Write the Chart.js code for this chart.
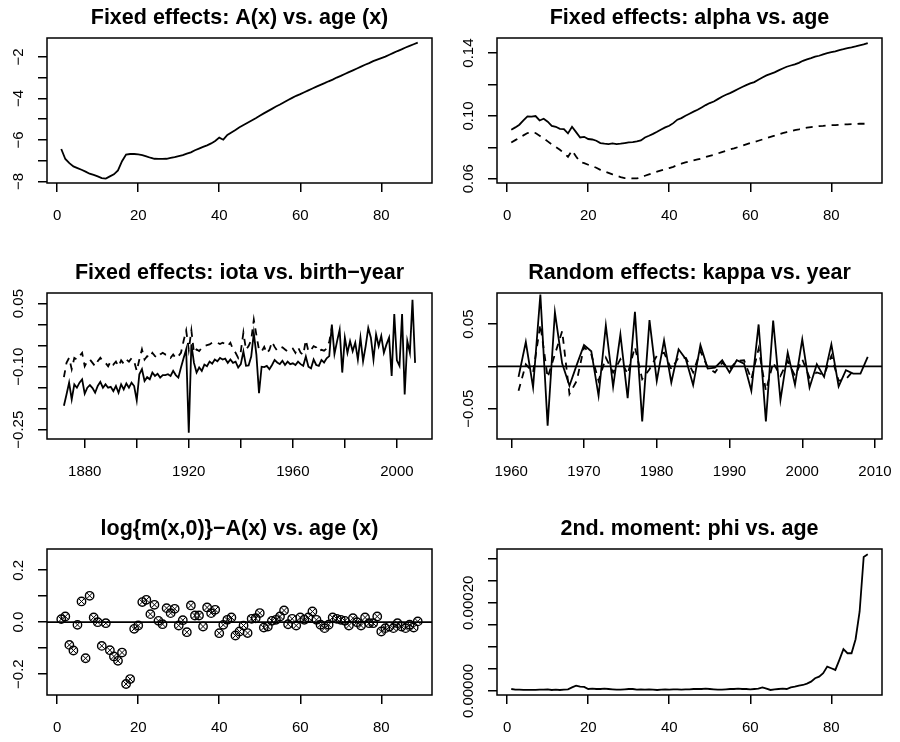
<!DOCTYPE html>
<html>
<head>
<meta charset="utf-8">
<script src="https://cdn.jsdelivr.net/npm/chart.js@4.4.0/dist/chart.umd.min.js"></script>
<style>
  html, body { margin: 0; background: #fff; }
  #page { position: relative; width: 900px; height: 742px; }
  #page canvas { position: absolute; left: 0; top: 0; }
</style>
</head>
<body>
<div id="page">
  <canvas id="pA" width="900" height="742"></canvas>
  <canvas id="pAlpha" width="900" height="742"></canvas>
  <canvas id="pIota" width="900" height="742"></canvas>
  <canvas id="pKappa" width="900" height="742"></canvas>
  <canvas id="pResid" width="900" height="742"></canvas>
  <canvas id="pPhi" width="900" height="742"></canvas>
</div>
<script>
// ages 1..89
const ages = [1,2,3,4,5,6,7,8,9,10,11,12,13,14,15,16,17,18,19,20,21,22,23,24,25,26,27,28,29,30,
  31,32,33,34,35,36,37,38,39,40,41,42,43,44,45,46,47,48,49,50,51,52,53,54,55,56,57,58,59,60,
  61,62,63,64,65,66,67,68,69,70,71,72,73,74,75,76,77,78,79,80,81,82,83,84,85,86,87,88,89];

// birth-years 1872..2007
const cohorts = [1872,1873,1874,1875,1876,1877,1878,1879,1880,1881,1882,1883,1884,1885,1886,1887,1888,1889,1890,1891,
  1892,1893,1894,1895,1896,1897,1898,1899,1900,1901,1902,1903,1904,1905,1906,1907,1908,1909,1910,1911,
  1912,1913,1914,1915,1916,1917,1918,1919,1920,1921,1922,1923,1924,1925,1926,1927,1928,1929,1930,1931,
  1932,1933,1934,1935,1936,1937,1938,1939,1940,1941,1942,1943,1944,1945,1946,1947,1948,1949,1950,1951,
  1952,1953,1954,1955,1956,1957,1958,1959,1960,1961,1962,1963,1964,1965,1966,1967,1968,1969,1970,1971,
  1972,1973,1974,1975,1976,1977,1978,1979,1980,1981,1982,1983,1984,1985,1986,1987,1988,1989,1990,1991,
  1992,1993,1994,1995,1996,1997,1998,1999,2000,2001,2002,2003,2004,2005,2006,2007];

// calendar years 1961..2009
const years = [1961,1962,1963,1964,1965,1966,1967,1968,1969,1970,1971,1972,1973,1974,1975,1976,1977,1978,1979,1980,
  1981,1982,1983,1984,1985,1986,1987,1988,1989,1990,1991,1992,1993,1994,1995,1996,1997,1998,1999,2000,
  2001,2002,2003,2004,2005,2006,2007,2008,2009];

const A = [-6.44,-6.92,-7.12,-7.28,-7.36,-7.44,-7.53,-7.63,-7.69,-7.76,
  -7.84,-7.87,-7.76,-7.66,-7.47,-7.03,-6.71,-6.68,-6.68,-6.70,
  -6.73,-6.79,-6.86,-6.91,-6.92,-6.92,-6.91,-6.87,-6.83,-6.78,
  -6.73,-6.66,-6.60,-6.50,-6.42,-6.34,-6.26,-6.17,-6.05,-5.89,
  -5.99,-5.76,-5.64,-5.52,-5.39,-5.28,-5.17,-5.06,-4.95,-4.83,
  -4.72,-4.61,-4.50,-4.39,-4.29,-4.18,-4.07,-3.97,-3.87,-3.79,
  -3.70,-3.61,-3.52,-3.43,-3.34,-3.26,-3.17,-3.09,-2.99,-2.91,
  -2.82,-2.73,-2.64,-2.55,-2.46,-2.37,-2.29,-2.20,-2.12,-2.05,
  -1.98,-1.89,-1.80,-1.71,-1.63,-1.54,-1.46,-1.38,-1.30];

const alpha = [0.0912,0.0927,0.0944,0.0971,0.0997,0.0995,0.0999,0.0971,0.0982,0.0963,
  0.0937,0.0931,0.0918,0.0916,0.0889,0.0931,0.0897,0.0863,0.0867,0.0853,
  0.0850,0.0842,0.0827,0.0823,0.0821,0.0825,0.0821,0.0823,0.0827,0.0831,
  0.0833,0.0838,0.0844,0.0863,0.0874,0.0886,0.0899,0.0914,0.0927,0.0937,
  0.0954,0.0976,0.0986,0.1001,0.1014,0.1027,0.1039,0.1054,0.1069,0.1082,
  0.1092,0.1107,0.1122,0.1135,0.1145,0.1158,0.1171,0.1184,0.1196,0.1207,
  0.1215,0.1230,0.1245,0.1258,0.1268,0.1277,0.1290,0.1302,0.1313,0.1321,
  0.1328,0.1338,0.1351,0.1360,0.1368,0.1377,0.1383,0.1392,0.1400,0.1406,
  0.1411,0.1419,0.1425,0.1432,0.1436,0.1442,0.1449,0.1455,0.1464];

const alphaDash = [0.0831,0.0846,0.0861,0.0876,0.0891,0.0895,0.0891,0.0874,0.0857,0.0838,
  0.0819,0.0802,0.0785,0.0763,0.0740,0.0780,0.0742,0.0706,0.0700,0.0689,
  0.0681,0.0670,0.0657,0.0647,0.0638,0.0628,0.0619,0.0611,0.0604,0.0604,
  0.0602,0.0602,0.0608,0.0619,0.0628,0.0636,0.0645,0.0653,0.0659,0.0668,
  0.0676,0.0687,0.0696,0.0704,0.0710,0.0717,0.0723,0.0729,0.0738,0.0746,
  0.0753,0.0761,0.0770,0.0778,0.0787,0.0793,0.0802,0.0810,0.0819,0.0827,
  0.0833,0.0842,0.0850,0.0859,0.0867,0.0874,0.0882,0.0891,0.0897,0.0903,
  0.0910,0.0914,0.0920,0.0925,0.0929,0.0933,0.0935,0.0937,0.0940,0.0942,
  0.0942,0.0944,0.0946,0.0946,0.0948,0.0948,0.0950,0.0950,0.0950];

const iota = [-0.193,-0.166,-0.138,-0.178,-0.142,-0.150,-0.138,-0.130,-0.164,-0.150,
  -0.144,-0.151,-0.162,-0.146,-0.136,-0.150,-0.142,-0.150,-0.148,-0.158,
  -0.146,-0.162,-0.142,-0.154,-0.140,-0.150,-0.138,-0.146,-0.180,-0.118,
  -0.106,-0.134,-0.125,-0.130,-0.114,-0.122,-0.117,-0.126,-0.120,-0.120,
  -0.118,-0.122,-0.110,-0.120,-0.126,-0.102,-0.080,-0.059,-0.257,-0.047,
  -0.091,-0.114,-0.102,-0.110,-0.095,-0.099,-0.088,-0.093,-0.083,-0.087,
  -0.079,-0.083,-0.081,-0.091,-0.083,-0.091,-0.088,-0.102,-0.094,-0.064,
  -0.098,-0.097,-0.076,-0.020,-0.072,-0.163,-0.100,-0.101,-0.098,-0.106,
  -0.096,-0.084,-0.090,-0.094,-0.086,-0.096,-0.088,-0.094,-0.092,-0.096,
  -0.088,-0.094,-0.098,-0.076,-0.100,-0.104,-0.083,-0.096,-0.098,-0.084,
  -0.090,-0.080,-0.075,0.000,-0.070,-0.040,-0.012,-0.114,-0.031,-0.067,
  -0.039,-0.063,-0.043,-0.083,-0.031,-0.087,-0.051,-0.008,-0.031,-0.083,
  -0.023,-0.051,-0.027,-0.067,-0.047,-0.031,-0.122,0.025,-0.085,-0.098,
  0.025,-0.166,-0.039,-0.067,0.059,-0.091];

// dashed iota stops in 1975
const iotaDash = [-0.125,-0.091,-0.079,-0.106,-0.079,-0.083,-0.075,-0.067,-0.099,-0.087,
  -0.083,-0.091,-0.099,-0.087,-0.079,-0.087,-0.091,-0.099,-0.087,-0.095,
  -0.088,-0.099,-0.085,-0.093,-0.083,-0.088,-0.080,-0.087,-0.110,-0.083,
  -0.059,-0.083,-0.075,-0.079,-0.067,-0.075,-0.079,-0.071,-0.067,-0.071,
  -0.071,-0.079,-0.071,-0.080,-0.075,-0.067,-0.039,-0.014,-0.060,-0.014,
  -0.067,-0.059,-0.063,-0.055,-0.051,-0.049,-0.047,-0.043,-0.043,-0.043,
  -0.046,-0.043,-0.046,-0.051,-0.043,-0.059,-0.067,-0.079,-0.064,-0.019,
  -0.060,-0.051,-0.037,0.012,-0.025,-0.060,-0.064,-0.053,-0.068,-0.060,
  -0.041,-0.053,-0.062,-0.057,-0.054,-0.059,-0.064,-0.060,-0.057,-0.067,
  -0.054,-0.067,-0.072,-0.037,-0.064,-0.060,-0.051,-0.054,-0.064,-0.060,
  -0.062,-0.057,-0.041,-0.007];

const kappa = [-0.0123,0.0288,-0.0249,0.0850,-0.0700,0.0640,0.0033,-0.0229,0.0018,0.0253,
  0.0180,-0.0347,0.0484,-0.0241,0.0378,-0.0374,0.0645,-0.0649,0.0547,-0.0170,
  0.0308,-0.0190,0.0202,0.0085,-0.0221,0.0253,-0.0025,-0.0014,0.0073,-0.0072,
  0.0073,0.0033,-0.0288,0.0496,-0.0649,0.0543,-0.0398,0.0163,-0.0217,0.0320,
  -0.0249,0.0025,-0.0123,0.0261,-0.0237,-0.0045,-0.0084,-0.0084,0.0112];

// dashed kappa stops in 2007
const kappaDash = [-0.0288,0.0025,-0.0072,0.0496,-0.0131,0.0143,0.0418,-0.0327,-0.0170,0.0229,
  0.0143,-0.0170,0.0104,-0.0072,0.0084,-0.0092,0.0229,-0.0151,-0.0033,0.0124,
  0.0163,-0.0033,0.0104,0.0100,-0.0072,0.0182,-0.0014,-0.0072,0.0045,-0.0033,
  0.0065,0.0073,-0.0151,0.0210,-0.0288,0.0045,-0.0112,0.0065,-0.0112,0.0084,
  -0.0131,-0.0072,-0.0100,0.0124,-0.0170,-0.0151,-0.0053];

const resid = [0.0116,0.0219,-0.0875,-0.109,-0.0103,0.0797,-0.139,0.1016,0.018,0.0,
  -0.0913,-0.004,-0.108,-0.132,-0.149,-0.117,-0.238,-0.219,-0.0257,-0.0129,
  0.0772,0.0862,0.0309,0.0669,0.0051,-0.0077,0.054,0.0347,0.0514,-0.0129,
  0.0077,-0.0386,0.0643,0.0257,0.0257,-0.0167,0.0566,0.0347,0.0476,-0.0424,
  -0.0103,0.009,0.018,-0.0514,-0.036,-0.013,-0.042,0.013,0.015,0.035,
  -0.021,-0.017,0.005,0.009,0.022,0.045,-0.008,0.013,-0.013,0.018,
  0.009,0.018,0.041,0.009,-0.010,-0.023,-0.010,0.018,0.013,0.009,
  0.005,-0.013,0.015,0.0,-0.013,0.018,-0.004,-0.004,0.022,-0.036,
  -0.023,-0.017,-0.023,-0.004,-0.017,-0.023,-0.010,-0.021,0.003];

const phi = [0.0000045,0.0000030,0.0000030,0.0000023,0.0000023,0.0000023,0.0000023,0.0000030,0.0000030,0.0000038,
  0.0000023,0.0000030,0.0000023,0.0000030,0.0000038,0.0000083,0.0000121,0.0000098,0.0000091,0.0000045,
  0.0000053,0.0000045,0.0000045,0.0000053,0.0000045,0.0000038,0.0000030,0.0000030,0.0000038,0.0000045,
  0.0000045,0.0000030,0.0000038,0.0000030,0.0000038,0.0000030,0.0000023,0.0000030,0.0000038,0.0000030,
  0.0000038,0.0000038,0.0000030,0.0000038,0.0000038,0.0000045,0.0000045,0.0000045,0.0000053,0.0000045,
  0.0000038,0.0000030,0.0000030,0.0000038,0.0000045,0.0000045,0.0000053,0.0000045,0.0000045,0.0000038,
  0.0000045,0.0000053,0.0000083,0.0000053,0.0000023,0.0000038,0.0000045,0.0000053,0.0000045,0.0000083,
  0.0000098,0.0000121,0.0000136,0.0000167,0.0000212,0.0000288,0.0000326,0.0000402,0.0000553,0.0000515,
  0.0000477,0.0000705,0.0000947,0.0000856,0.0000856,0.0001174,0.0001803,0.0003038,0.0003099];

// axis ticks and their labels ('' = tick without label)
const ageTicks = [0, 20, 40, 60, 80];
const ageLabels = ['0', '20', '40', '60', '80'];
const cohortTicks = [1880, 1900, 1920, 1940, 1960, 1980, 2000];
const cohortLabels = ['1880', '', '1920', '', '1960', '', '2000'];
const yearTicks = [1960, 1970, 1980, 1990, 2000, 2010];
const yearLabels = ['1960', '1970', '1980', '1990', '2000', '2010'];
const aTicks = [-8, -7, -6, -5, -4, -3, -2];
const aLabels = ['\u22128', '', '\u22126', '', '\u22124', '', '\u22122'];
const alphaTicks = [0.06, 0.08, 0.10, 0.12, 0.14];
const alphaLabels = ['0.06', '', '0.10', '', '0.14'];
const iotaTicks = [-0.25, -0.20, -0.15, -0.10, -0.05, 0, 0.05];
const iotaLabels = ['\u22120.25', '', '', '\u22120.10', '', '', '0.05'];
const kappaTicks = [-0.05, 0, 0.05];
const kappaLabels = ['\u22120.05', '', '0.05'];
const residTicks = [-0.2, -0.1, 0, 0.1, 0.2];
const residLabels = ['\u22120.2', '', '0.0', '', '0.2'];
const phiTicks = [0, 0.00005, 0.0001, 0.00015, 0.0002, 0.00025, 0.0003];
const phiLabels = ['0.00000', '', '', '', '0.00020', '', ''];

const FONT = '"Liberation Sans", Arial, Helvetica, sans-serif';

function pts(xs, ys) {
  return ys.map((y, i) => ({ x: xs[i], y: y }));
}

function solid(xs, ys) {
  return { data: pts(xs, ys), borderColor: '#000', borderWidth: 1.8, pointRadius: 0, tension: 0, fill: false };
}

function dashed(xs, ys) {
  return { ...solid(xs, ys), borderDash: [7, 6] };
}

// box, title, rotated y labels, optional h=0 line
const rFrame = {
  id: 'rFrame',
  beforeDatasetsDraw(chart, args, opts) {
    if (!opts.zeroLine) return;
    const { ctx, chartArea: a } = chart;
    const y0 = chart.scales.y.getPixelForValue(0);
    ctx.save();
    ctx.strokeStyle = '#000';
    ctx.lineWidth = 1.6;
    ctx.beginPath();
    ctx.moveTo(a.left, y0);
    ctx.lineTo(a.right, y0);
    ctx.stroke();
    ctx.restore();
  },
  afterDraw(chart, args, opts) {
    const { ctx, chartArea: a } = chart;
    const ys = chart.scales.y;
    ctx.save();
    ctx.strokeStyle = '#000';
    ctx.lineWidth = 1.5;
    ctx.strokeRect(a.left, a.top, a.right - a.left, a.bottom - a.top);

    ctx.fillStyle = '#000';
    ctx.textAlign = 'center';
    ctx.textBaseline = 'alphabetic';
    ctx.font = 'bold 21.5px ' + FONT;
    ctx.fillText(opts.title, (a.left + a.right) / 2, a.top - 14);

    ctx.font = '15px ' + FONT;
    opts.yTicks.forEach((v, i) => {
      const lab = opts.yLabels[i];
      if (!lab) return;
      ctx.save();
      ctx.translate(a.left - 24.5, ys.getPixelForValue(v));
      ctx.rotate(-Math.PI / 2);
      ctx.fillText(lab, 0, 0);
      ctx.restore();
    });
    ctx.restore();
  }
};

function rPanel(id, p) {
  const [L, T, R, B] = p.box;
  const grid = { drawOnChartArea: false, drawTicks: true, tickLength: 9, color: '#000', lineWidth: 1.5 };
  return new Chart(document.getElementById(id), {
    type: 'line',
    data: { datasets: p.datasets },
    options: {
      responsive: false,
      animation: false,
      events: [],
      layout: { padding: { left: L - 10, top: T, right: 900 - R, bottom: 742 - B - 40 } },
      plugins: {
        legend: { display: false },
        tooltip: { enabled: false },
        rFrame: { title: p.title, yTicks: p.yTicks, yLabels: p.yLabels, zeroLine: !!p.zeroLine }
      },
      scales: {
        x: {
          type: 'linear',
          position: 'bottom',
          min: p.xRange[0],
          max: p.xRange[1],
          afterBuildTicks: s => { s.ticks = p.xTicks.map(v => ({ value: v })); },
          afterFit: s => { s.height = 40; s.paddingLeft = 0; s.paddingRight = 0; },
          ticks: {
            autoSkip: false, maxRotation: 0, minRotation: 0, padding: 15, color: '#000',
            font: { family: FONT, size: 15 },
            callback: (v, i) => p.xLabels[i]
          },
          grid: grid,
          border: { display: false }
        },
        y: {
          type: 'linear',
          position: 'left',
          min: p.yRange[0],
          max: p.yRange[1],
          afterBuildTicks: s => { s.ticks = p.yTicks.map(v => ({ value: v })); },
          afterFit: s => { s.width = 10; s.paddingTop = 0; s.paddingBottom = 0; },
          ticks: { display: false },
          grid: grid,
          border: { display: false }
        }
      }
    },
    plugins: [rFrame]
  });
}

const ageRange = [-2.52, 92.52];

rPanel('pA', {
  box: [47, 38, 432, 183],
  title: 'Fixed effects: A(x) vs. age (x)',
  xRange: ageRange, xTicks: ageTicks, xLabels: ageLabels,
  yRange: [-8.08, -1.08], yTicks: aTicks, yLabels: aLabels,
  datasets: [solid(ages, A)]
});

rPanel('pAlpha', {
  box: [497, 38, 882, 183],
  title: 'Fixed effects: alpha vs. age',
  xRange: ageRange, xTicks: ageTicks, xLabels: ageLabels,
  yRange: [0.0573, 0.1496], yTicks: alphaTicks, yLabels: alphaLabels,
  datasets: [solid(ages, alpha), dashed(ages, alphaDash)]
});

rPanel('pIota', {
  box: [47, 293, 432, 439],
  title: 'Fixed effects: iota vs. birth\u2212year',
  xRange: [1865.5, 2013.5], xTicks: cohortTicks, xLabels: cohortLabels,
  yRange: [-0.272, 0.0752], yTicks: iotaTicks, yLabels: iotaLabels,
  datasets: [solid(cohorts, iota), dashed(cohorts, iotaDash)]
});

rPanel('pKappa', {
  box: [497, 293, 882, 439],
  title: 'Random effects: kappa vs. year',
  xRange: [1958.04, 2010.96], xTicks: yearTicks, xLabels: yearLabels,
  yRange: [-0.0858, 0.0868], yTicks: kappaTicks, yLabels: kappaLabels,
  zeroLine: true,
  datasets: [solid(years, kappa), dashed(years, kappaDash)]
});

rPanel('pResid', {
  box: [47, 549, 432, 695],
  title: 'log{m(x,0)}\u2212A(x) vs. age (x)',
  xRange: ageRange, xTicks: ageTicks, xLabels: ageLabels,
  yRange: [-0.2804, 0.2817], yTicks: residTicks, yLabels: residLabels,
  zeroLine: true,
  datasets: [
    { data: pts(ages, resid), showLine: false, pointStyle: 'circle', pointRadius: 4.2,
      pointBorderWidth: 1.4, pointBorderColor: '#000', pointBackgroundColor: 'rgba(0,0,0,0)' },
    { data: pts(ages, resid), showLine: false, pointStyle: 'crossRot', pointRadius: 4.2,
      pointBorderWidth: 1, pointBorderColor: '#000', pointBackgroundColor: 'rgba(0,0,0,0)' }
  ]
});

rPanel('pPhi', {
  box: [497, 549, 882, 695],
  title: '2nd. moment: phi vs. age',
  xRange: ageRange, xTicks: ageTicks, xLabels: ageLabels,
  yRange: [-0.0000091, 0.000322], yTicks: phiTicks, yLabels: phiLabels,
  datasets: [solid(ages, phi)]
});
</script>
</body>
</html>
